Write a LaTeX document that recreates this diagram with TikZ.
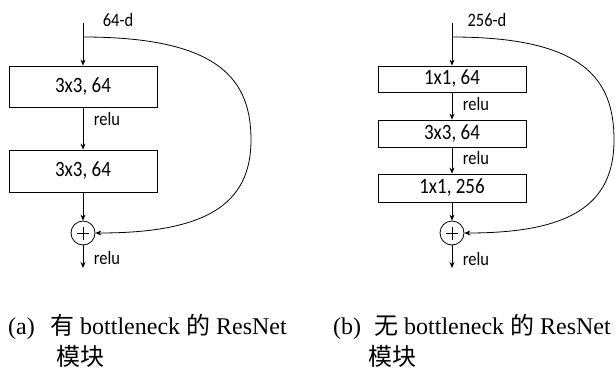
\documentclass[tikz,border=0pt]{standalone}
\usepackage{fontspec}
\usepackage{graphicx}
\setmainfont{Liberation Serif}
\newfontfamily\diagfont{Carlito}
\newfontfamily\cjk{Noto Sans CJK SC}
\usetikzlibrary{arrows.meta}

% diagram lettering is a bit taller than wide
\newcommand{\tallt}[1]{\scalebox{1}[1.15]{#1}}

\tikzset{
  blk/.style={draw, line width=0.8pt, minimum width=148pt, inner sep=0pt,
    font=\diagfont\fontsize{19}{22}\selectfont},
  sumnode/.style={draw, circle, line width=0.8pt, minimum size=24pt, inner sep=0pt,
    path picture={
      \draw[line width=0.7pt] (path picture bounding box.center) +(-6pt,0) -- +(6pt,0);
      \draw[line width=0.7pt] (path picture bounding box.center) +(0,-6.5pt) -- +(0,6.5pt);}},
  lbl/.style={inner sep=0pt, font=\diagfont\fontsize{16.5}{19}\selectfont},
  captext/.style={inner sep=0pt, anchor=base west, font=\fontsize{24}{28}\selectfont},
  flow/.style={line width=0.8pt, -{Stealth[length=6pt,width=5pt]}}
}

\begin{document}
\begin{tikzpicture}[x=1pt,y=-1pt]
  \useasboundingbox (0,0) rectangle (616,369);

  % two 3x3 layers
  \coordinate (ina) at (83,23);
  \coordinate (ska) at (83,37);
  \node[blk, minimum height=41pt] (a1) at (83,86.5) {\tallt{3x3, 64}};
  \node[blk, minimum height=42pt] (a2) at (83,171) {\tallt{3x3, 64}};
  \node[sumnode] (suma) at (83,233) {};
  \coordinate (outa) at (83,268);
  \node[lbl] (dima) at (118,20) {\tallt{64-d}};
  \node[lbl] (relua1) at (107,119) {\tallt{relu}};
  \node[lbl] (relua2) at (107,258) {\tallt{relu}};
  \draw[flow] (ina) -- (a1);
  \draw[flow] (a1) -- (a2);
  \draw[flow] (a2) -- (suma);
  \draw[flow] (suma) -- (outa);
  \draw[line width=1.6pt] (a2.south west) -- (a2.south east);
  \draw[flow] (ska) .. controls (220,37) and (251,80) .. (251,140)
    .. controls (251,205) and (205,233) .. (suma.east);

  % 1x1 / 3x3 / 1x1 stack
  \coordinate (inb) at (452,23);
  \coordinate (skb) at (452,37);
  \node[blk, minimum height=26pt] (b1) at (452,79) {\tallt{1x1, 64}};
  \node[blk, minimum height=27pt] (b2) at (452,133.5) {\tallt{3x3, 64}};
  \node[blk, minimum height=28pt] (b3) at (452,188) {\tallt{1x1, 256}};
  \node[sumnode] (sumb) at (452,233) {};
  \coordinate (outb) at (452,268);
  \node[lbl] (dimb) at (487,20) {\tallt{256-d}};
  \node[lbl] (relub1) at (476,104) {\tallt{relu}};
  \node[lbl] (relub2) at (476,158) {\tallt{relu}};
  \node[lbl] (relub3) at (476,259) {\tallt{relu}};
  \draw[flow] (inb) -- (b1);
  \draw[flow] (b1) -- (b2);
  \draw[flow] (b2) -- (b3);
  \draw[flow] (b3) -- (sumb);
  \draw[flow] (sumb) -- (outb);
  \draw[flow] (skb) .. controls (585,37) and (614,80) .. (614,140)
    .. controls (614,205) and (570,233) .. (sumb.east);

  % captions
  \node[captext] (taga) at (8,334) {(a)};
  \node[captext] (capa) at (50,334) {{\cjk 有} bottleneck {\cjk 的} ResNet};
  \node[captext] (capa2) at (56,365) {\cjk 模块};
  \node[captext] (tagb) at (333,334) {(b)};
  \node[captext] (capb) at (374,334) {{\cjk 无} bottleneck {\cjk 的} ResNet};
  \node[captext] (capb2) at (368,365) {\cjk 模块};
\end{tikzpicture}
\end{document}
